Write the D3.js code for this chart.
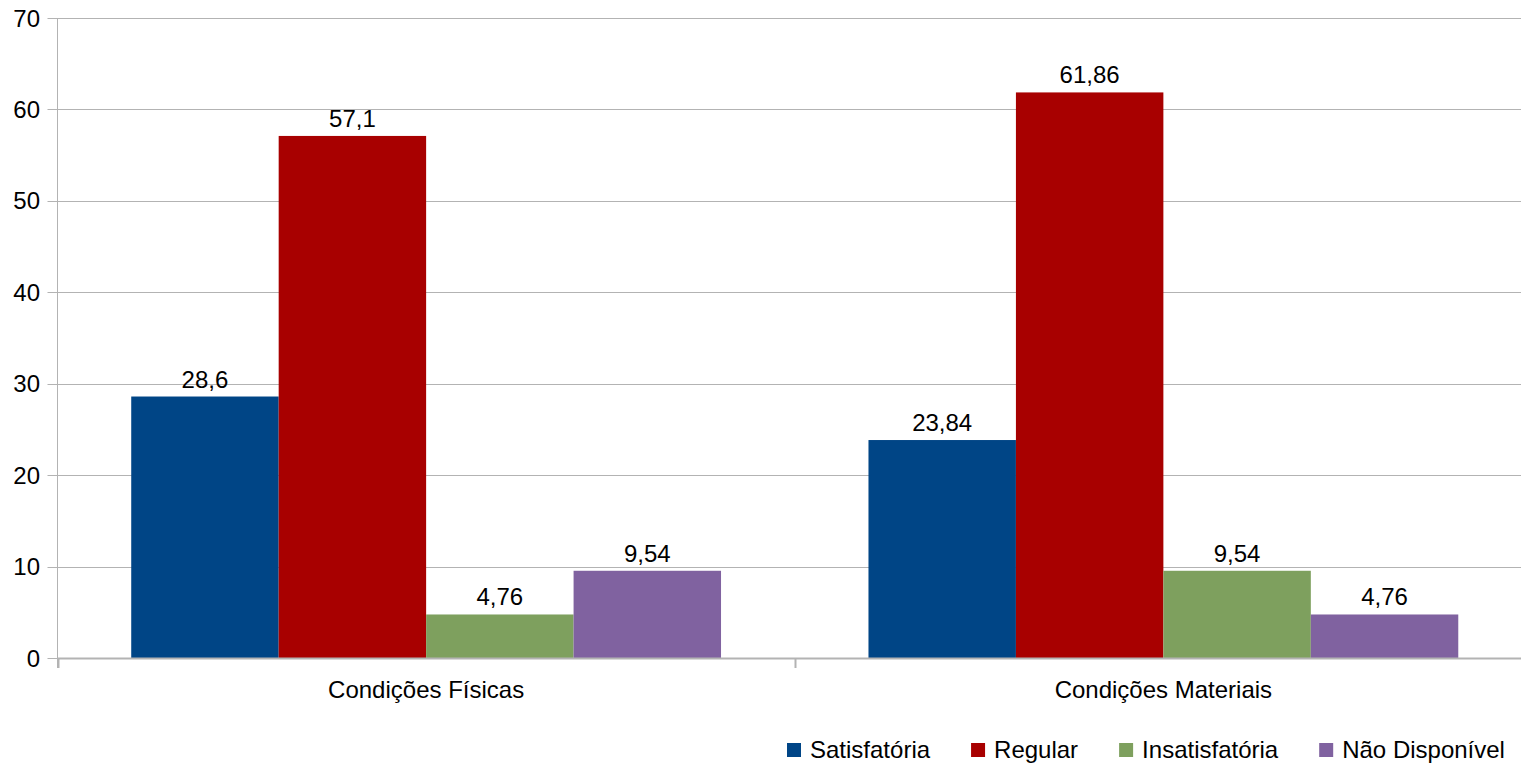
<!DOCTYPE html>
<html>
<head>
<meta charset="utf-8">
<script src="https://cdn.jsdelivr.net/npm/d3@7/dist/d3.min.js"></script>
<style>
  html, body { margin: 0; padding: 0; background: #fff; overflow: hidden; }
  svg { display: block; font-family: "Liberation Sans", Arial, sans-serif; }
</style>
</head>
<body>
<svg id="chart" width="1521" height="769"></svg>
<script>
const categories = ["Condições Físicas", "Condições Materiais"];
const seriesNames = ["Satisfatória", "Regular", "Insatisfatória", "Não Disponível"];
const seriesColors = ["#004586", "#a80000", "#7ea05e", "#8062a0"];
const satisfatoria = [28.6, 23.84];
const regular = [57.1, 61.86];
const insatisfatoria = [4.76, 9.54];
const naoDisponivel = [9.54, 4.76];
const valueLabels = [["28,6", "23,84"], ["57,1", "61,86"], ["4,76", "9,54"], ["9,54", "4,76"]];
const yTicks = [0, 10, 20, 30, 40, 50, 60, 70];

const seriesValues = [satisfatoria, regular, insatisfatoria, naoDisponivel];

const svg = d3.select("#chart");
const plotLeft = 57.5, plotRight = 1532, plotTop = 18, plotBottom = 658;
const fontSize = 24;

const x0 = d3.scaleBand().domain(categories).range([plotLeft, plotRight]).paddingInner(0).paddingOuter(0);
const x1 = d3.scaleBand().domain(seriesNames).range([0, x0.bandwidth()]).paddingInner(0).paddingOuter(0.5);
const y = d3.scaleLinear().domain([0, 70]).range([plotBottom, plotTop]);

// gridlines
svg.append("g")
  .selectAll("line")
  .data(yTicks)
  .enter().append("line")
  .attr("x1", plotLeft - 10)
  .attr("x2", plotRight)
  .attr("y1", d => Math.round(y(d)) + 0.5)
  .attr("y2", d => Math.round(y(d)) + 0.5)
  .attr("stroke", "#b3b3b3")
  .attr("stroke-width", 1);

// y tick labels
svg.append("g")
  .selectAll("text")
  .data(yTicks)
  .enter().append("text")
  .attr("x", 40)
  .attr("y", d => y(d))
  .attr("dy", "0.36em")
  .attr("text-anchor", "end")
  .attr("font-size", fontSize)
  .attr("fill", "#000")
  .text(d => d);

// bars
const groups = svg.append("g")
  .selectAll("g")
  .data(categories)
  .enter().append("g")
  .attr("transform", d => "translate(" + x0(d) + ",0)");

const cellData = (c, ci) => seriesNames.map((s, si) => ({ s, si, v: seriesValues[si][ci], label: valueLabels[si][ci] }));

groups.selectAll("rect")
  .data(cellData)
  .enter().append("rect")
  .attr("x", d => x1(d.s))
  .attr("y", d => y(d.v))
  .attr("width", x1.bandwidth())
  .attr("height", d => plotBottom - y(d.v))
  .attr("fill", d => seriesColors[d.si]);

groups.selectAll("text")
  .data(cellData)
  .enter().append("text")
  .attr("x", d => x1(d.s) + x1.bandwidth() / 2)
  .attr("y", d => y(d.v) - 9)
  .attr("text-anchor", "middle")
  .attr("font-size", fontSize)
  .attr("fill", "#000")
  .text(d => d.label);

// axis lines
svg.append("line")
  .attr("x1", plotLeft).attr("x2", plotLeft)
  .attr("y1", plotTop).attr("y2", plotBottom + 10)
  .attr("stroke", "#b3b3b3");

svg.append("line")
  .attr("x1", plotLeft).attr("x2", plotRight)
  .attr("y1", plotBottom + 0.5).attr("y2", plotBottom + 0.5)
  .attr("stroke", "#b3b3b3").attr("stroke-width", 2);

// x ticks between categories
const xTickPos = [plotLeft].concat(categories.map(c => x0(c) + x0.bandwidth()));
svg.append("g")
  .selectAll("line")
  .data(xTickPos)
  .enter().append("line")
  .attr("x1", d => Math.round(d) + 0.5)
  .attr("x2", d => Math.round(d) + 0.5)
  .attr("y1", plotBottom)
  .attr("y2", plotBottom + 10)
  .attr("stroke", "#b3b3b3")
  .attr("stroke-width", 2);

// category labels
svg.append("g")
  .selectAll("text")
  .data(categories)
  .enter().append("text")
  .attr("x", d => x0(d) + x0.bandwidth() / 2)
  .attr("y", 698)
  .attr("text-anchor", "middle")
  .attr("font-size", fontSize)
  .attr("fill", "#000")
  .text(d => d);

// legend
const legend = svg.append("g");
let lx = 787;
seriesNames.forEach((name, i) => {
  legend.append("rect")
    .attr("x", lx).attr("y", 743)
    .attr("width", 14).attr("height", 14)
    .attr("fill", seriesColors[i]);
  const t = legend.append("text")
    .attr("x", lx + 23)
    .attr("y", 758)
    .attr("font-size", fontSize)
    .attr("fill", "#000")
    .text(name);
  lx = lx + 23 + t.node().getComputedTextLength() + 41;
});
</script>
</body>
</html>
